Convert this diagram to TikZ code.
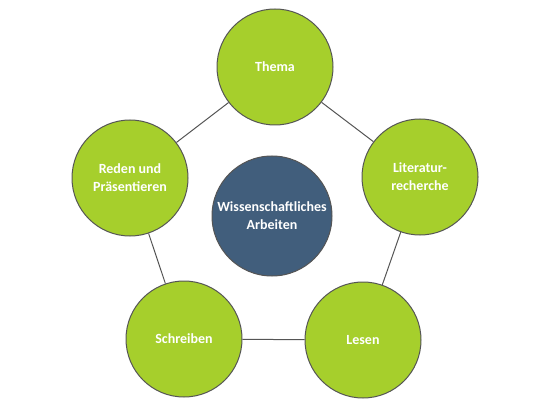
\documentclass[tikz,border=0pt]{standalone}
\usepackage{fontspec}
\setmainfont{Carlito}
\definecolor{topicgreen}{HTML}{A6CF2C}
\definecolor{coreblue}{HTML}{415E7C}
\definecolor{rimgray}{HTML}{555555}
\tikzset{
  topic/.style={circle, draw=rimgray, line width=1pt, fill=topicgreen, minimum size=116pt,
    text=white, font=\bfseries\fontsize{14}{18}\selectfont, align=center, inner sep=0pt},
  core/.style={topic, fill=coreblue, minimum size=120pt},
  link/.style={draw=rimgray, line width=1pt}
}
\begin{document}
\begin{tikzpicture}[x=1pt, y=-1pt]
        \useasboundingbox (0,0) rectangle (546,406);

        % Centre of the cycle
        \node[core] (arbeiten) at (272, 216) {Wissenschaftliches\\Arbeiten};

        % The five steps around it
        \node[topic] (thema) at (275, 67) {Thema};
        \node[topic] (literatur) at (420, 177) {Literatur-\\recherche};
        \node[topic] (lesen) at (363, 340) {Lesen};
        \node[topic] (schreiben) at (184, 339) {Schreiben};
        \node[topic] (reden) at (130, 178) {Reden und\\Präsentieren};

        % Connect the steps
        \draw[link] (thema) -- (literatur);
        \draw[link] (literatur) -- (lesen);
        \draw[link] (lesen) -- (schreiben);
        \draw[link] (schreiben) -- (reden);
        \draw[link] (reden) -- (thema);
    \end{tikzpicture}
\end{document}
